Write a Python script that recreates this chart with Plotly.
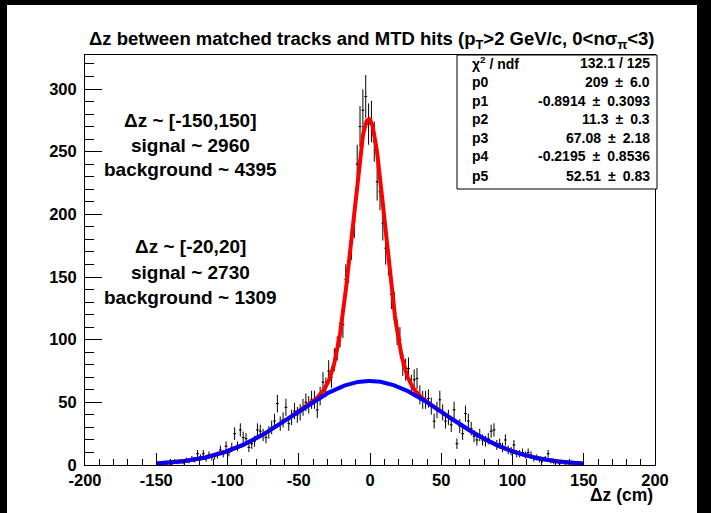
import numpy as np
import plotly.graph_objects as go

# ---------------- data ----------------
bin_centers = list(range(-149, 150, 2))   # bin width 2 cm
counts = [
    1, 0, 2, 1, 2, 1, 3, 2, 3, 2,          # -149 .. -131
    4, 3, 5, 4, 9, 6, 9, 5, 8, 6,          # -129 .. -111
    7, 8, 12, 9, 15, 10, 14, 25, 15, 28,   # -109 .. -91
    22, 21, 14, 17, 19, 28, 27, 24, 22, 26,  # -89 .. -71
    30, 35, 49, 33, 36, 46, 33, 38, 43, 40,  # -69 .. -51
    42, 46, 50, 48, 52, 52, 44, 55, 66, 62,  # -49 .. -31
    75, 70, 84, 93, 104, 112, 148, 158, 177, 195,  # -29 .. -11
    240, 270, 283, 294, 272, 274, 258, 226, 218, 193,  # -9 .. 9
    173, 164, 136, 127, 106, 100, 80, 76, 77, 64,  # 11 .. 29
    68, 69, 56, 52, 52, 53, 47, 35, 44, 52,  # 31 .. 49
    42, 35, 38, 32, 44, 17, 31, 25, 41, 35,  # 51 .. 69
    29, 23, 20, 24, 20, 19, 21, 27, 28, 16,  # 71 .. 89
    17, 14, 20, 12, 11, 16, 9, 9, 10, 8,     # 91 .. 109
    10, 8, 5, 6, 4, 4, 5, 9, 3, 2,           # 111 .. 129
    3, 1, 2, 1, 2, 2, 1, 1, 0, 1,            # 131 .. 149
]
errors = [float(np.sqrt(c)) for c in counts]

# fit parameters shown in the stats box (gaus + gaus)
p_names = ["p0", "p1", "p2", "p3", "p4", "p5"]
p_vals = [209.0, -0.8914, 11.3, 67.08, -0.2195, 52.51]
p_errs = ["6.0", "0.3093", "0.3", "2.18", "0.8536", "0.83"]
p_txt = ["209", "-0.8914", "11.3", "67.08", "-0.2195", "52.51"]
chi2_txt = "132.1 / 125"
fit_range = [-150, 150]

x_ticks = [-200, -150, -100, -50, 0, 50, 100, 150, 200]
y_ticks = [0, 50, 100, 150, 200, 250, 300]

info_lines_1 = ["Δz ~ [-150,150]", "signal ~ 2960", "background ~ 4395"]
info_lines_2 = ["Δz ~ [-20,20]", "signal ~ 2730", "background ~ 1309"]

# ---------------- fit functions from the displayed parameters ----------------
xf = np.linspace(fit_range[0], fit_range[1], 601)
p0, p1, p2, p3, p4, p5 = p_vals
bkg = p3 * np.exp(-0.5 * ((xf - p4) / p5) ** 2)
tot = p0 * np.exp(-0.5 * ((xf - p1) / p2) ** 2) + bkg

# ---------------- layout geometry (pixels) ----------------
W, H = 711, 513
L, R, T, B = 85, 655, 55, 465
YMAX = 300 * (B - T) / (B - 89)


def px(x):
    return (x - L) / (R - L)


def py(y):
    return (B - y) / (B - T)


FONT = "Liberation Sans, Arial, Helvetica, sans-serif"

fig = go.Figure()

fig.add_trace(go.Scatter(
    x=bin_centers, y=counts, mode="markers",
    marker=dict(size=1, color="black", symbol="square"),
    error_y=dict(type="data", array=errors, color="black", thickness=1, width=0),
    error_x=dict(type="constant", value=1, color="black", thickness=1, width=0),
    showlegend=False, hoverinfo="skip",
))
fig.add_trace(go.Scatter(x=xf, y=tot, mode="lines",
                         line=dict(color="#ff0000", width=4), showlegend=False))
fig.add_trace(go.Scatter(x=xf, y=bkg, mode="lines",
                         line=dict(color="#0000ff", width=4), showlegend=False))

shapes = [
    # white canvas inside the black screen border
    dict(type="rect", xref="paper", yref="paper", x0=px(7), x1=px(697),
         y0=py(5), y1=py(513), fillcolor="white", line=dict(width=0), layer="below"),
    # stats box
    dict(type="rect", xref="paper", yref="paper", x0=px(457), x1=px(657),
         y0=py(T), y1=py(189), fillcolor="white", line=dict(color="black", width=1),
         layer="above"),
]

annotations = []
annotations.append(dict(
    x=px(372), y=py(40), xref="paper", yref="paper", showarrow=False,
    xanchor="center", yanchor="middle",
    text="Δz between matched tracks and MTD hits (p<sub>T</sub>>2 GeV/c, 0<nσ<sub>π</sub><3)",
    font=dict(family=FONT, size=18.5, color="black", weight="bold"),
))
annotations.append(dict(
    x=px(655), y=py(495), xref="paper", yref="paper", showarrow=False,
    xanchor="right", yanchor="middle", text="Δz (cm)",
    font=dict(family=FONT, size=17.5, color="black", weight="bold"),
))
for lines, ys in ((info_lines_1, [120, 145, 169.5]), (info_lines_2, [246.5, 272.5, 297.5])):
    for t, yy in zip(lines, ys):
        annotations.append(dict(
            x=px(190), y=py(yy), xref="paper", yref="paper", showarrow=False,
            xanchor="center", yanchor="middle", text=t,
            font=dict(family=FONT, size=19, color="black", weight="bold"),
        ))

PM = "\u2002±\u2002"
stat_labels = ["χ<sup>2</sup> / ndf"] + p_names
stat_values = [chi2_txt] + [f"{v}{PM}{e}" for v, e in zip(p_txt, p_errs)]
stat_rows = [63, 82, 100.5, 119, 137.5, 156, 175.5]
for lab, val, yy in zip(stat_labels, stat_values, stat_rows):
    annotations.append(dict(
        x=px(470), y=py(yy), xref="paper", yref="paper", showarrow=False,
        xanchor="left", yanchor="middle", text=lab,
        font=dict(family=FONT, size=14, color="black", weight="bold"),
    ))
    annotations.append(dict(
        x=px(652), y=py(yy), xref="paper", yref="paper", showarrow=False,
        xanchor="right", yanchor="middle", text=val,
        font=dict(family=FONT, size=14, color="black", weight="bold"),
    ))

axis_font = dict(family=FONT, size=16.5, color="black", weight="bold")
fig.update_layout(
    width=W, height=H,
    margin=dict(l=L, r=W - R, t=T, b=H - B, pad=0),
    paper_bgcolor="black", plot_bgcolor="white",
    shapes=shapes, annotations=annotations,
    xaxis=dict(
        range=[-200, 200], tickmode="array", tickvals=x_ticks,
        ticktext=[str(v) for v in x_ticks],
        ticks="inside", ticklen=12, tickwidth=1, tickcolor="black",
        minor=dict(dtick=10, tick0=0, ticks="inside", ticklen=6, tickwidth=1, tickcolor="black"),
        showgrid=False, zeroline=False, showline=True, mirror=True,
        linecolor="black", linewidth=1, tickfont=axis_font,
    ),
    yaxis=dict(
        range=[0, YMAX], tickmode="array", tickvals=y_ticks,
        ticktext=[str(v) for v in y_ticks],
        ticks="inside", ticklen=17, tickwidth=1, tickcolor="black",
        minor=dict(dtick=10, tick0=0, ticks="inside", ticklen=9, tickwidth=1, tickcolor="black"),
        showgrid=False, zeroline=False, showline=True, mirror=True,
        linecolor="black", linewidth=1, tickfont=axis_font, ticklabelstandoff=4,
    ),
    font=dict(family=FONT, color="black"),
)

fig.write_html("out.html")
